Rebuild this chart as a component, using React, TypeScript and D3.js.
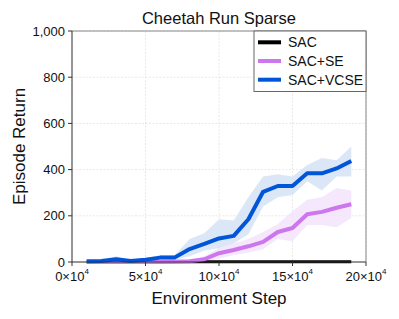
import React from "react";
import * as d3 from "d3";

const steps = [1, 2, 3, 4, 5, 6, 7, 8, 9, 10, 11, 12, 13, 14, 15, 16, 17, 18, 19].map((d) => d * 1e4);
const sacMean = [1, 1, 1, 1, 1, 1, 1, 1, 1, 1, 1, 1, 1, 1, 1, 1, 1, 1, 1];
const seMean = [0, 0, 0, 0, 0, 0, 1, 3, 12, 38, 52, 68, 87, 130, 147, 207, 217, 235, 250];
const seLow = [0, 0, 0, 0, 0, 0, 0, 0, 0, 15, 30, 40, 55, 100, 90, 160, 160, 150, 190];
const seHigh = [0, 0, 0, 0, 0, 1, 2, 8, 25, 60, 80, 100, 130, 165, 220, 270, 280, 320, 310];
const vcseMean = [3, 4, 12, 4, 10, 19, 20, 56, 78, 102, 113, 185, 304, 329, 329, 384, 384, 405, 437];
const vcseLow = [0, 2, 5, 2, 5, 10, 10, 25, 50, 60, 80, 120, 240, 280, 290, 350, 310, 370, 370];
const vcseHigh = [5, 6, 25, 6, 15, 30, 30, 100, 125, 185, 180, 280, 370, 380, 370, 420, 450, 440, 500];
const xTicks = [0, 5, 10, 15, 20];
const yTicks = [0, 200, 400, 600, 800, 1000];
const seriesNames = ["SAC", "SAC+SE", "SAC+VCSE"];
const seriesColors = ["#000000", "#cc77ee", "#0055d8"];
const bandColors = ["#cccccc", "#f3e1fb", "#d5e2f6"];

export default function App() {
  const W = 399, H = 319;
  const L = 72, R = 366, T = 31, B = 262;
  const x = d3.scaleLinear().domain([0, 20e4]).range([L, R]);
  const y = d3.scaleLinear().domain([0, 1000]).range([B, T]);
  const line = (vals: number[]) =>
    d3.line<number>().x((_, i) => x(steps[i])).y((v) => y(v))(vals) as string;
  const area = (lo: number[], hi: number[]) =>
    d3.area<number>().x((_, i) => x(steps[i])).y0((_, i) => y(lo[i])).y1((_, i) => y(hi[i]))(lo) as string;
  const font = "'Liberation Sans', Arial, sans-serif";
  const legX = 254, legY = 31;
  return (
    <svg width={W} height={H} style={{ position: "absolute", left: 0, top: 0, background: "#fff" }} fontFamily={font}>
      {xTicks.map((t) => (
        <line key={"gx" + t} x1={x(t * 1e4)} x2={x(t * 1e4)} y1={T} y2={B} stroke="#e2e2e2" strokeWidth={0.8} strokeDasharray="2,1.5" />
      ))}
      {yTicks.map((t) => (
        <line key={"gy" + t} x1={L} x2={R} y1={y(t)} y2={y(t)} stroke="#e2e2e2" strokeWidth={0.8} strokeDasharray="2,1.5" />
      ))}
      <path d={area(seLow, seHigh)} fill={bandColors[1]} opacity={0.8} />
      <path d={area(vcseLow, vcseHigh)} fill={bandColors[2]} opacity={0.85} />
      <path d={line(sacMean)} fill="none" stroke={seriesColors[0]} strokeWidth={3} />
      <path d={line(seMean)} fill="none" stroke={seriesColors[1]} strokeWidth={4} strokeLinejoin="round" />
      <path d={line(vcseMean)} fill="none" stroke={seriesColors[2]} strokeWidth={4} strokeLinejoin="round" />
      <line x1={L} x2={R} y1={T} y2={T} stroke="#888" strokeWidth={1} />
      <line x1={R} x2={R} y1={T} y2={B} stroke="#888" strokeWidth={1} />
      <line x1={L} x2={L} y1={T} y2={B} stroke="#333" strokeWidth={1} />
      <line x1={L} x2={R} y1={B} y2={B} stroke="#333" strokeWidth={1} />
      {yTicks.map((t) => (
        <g key={"yt" + t}>
          <line x1={L - 4} x2={L} y1={y(t)} y2={y(t)} stroke="#333" />
          <text x={L - 7} y={y(t)} dy="0.35em" textAnchor="end" fontSize={13} fill="#111">
            {d3.format(",")(t)}
          </text>
        </g>
      ))}
      {xTicks.map((t) => (
        <g key={"xt" + t}>
          <line x1={x(t * 1e4)} x2={x(t * 1e4)} y1={B} y2={B + 4} stroke="#333" />
          <text x={x(t * 1e4)} y={B + 19} textAnchor="middle" fontSize={13} fill="#111">
            {t + "×10"}
            <tspan dy={-7} fontSize={8}>4</tspan>
          </text>
        </g>
      ))}
      <text x={(L + R) / 2} y={23.5} textAnchor="middle" fontSize={16.5} fill="#111">Cheetah Run Sparse</text>
      <text x={(L + R) / 2} y={304} textAnchor="middle" fontSize={17} fill="#111">Environment Step</text>
      <text transform={`translate(25,${(T + B) / 2}) rotate(-90)`} textAnchor="middle" fontSize={17} fill="#111">Episode Return</text>
      <rect x={legX} y={legY} width={R - legX} height={60.5} fill="#fff" stroke="#666" strokeWidth={1} />
      {seriesNames.map((n, i) => (
        <g key={n}>
          <line x1={legX + 4} x2={legX + 27} y1={legY + 11.3 + i * 18.7} y2={legY + 11.3 + i * 18.7} stroke={seriesColors[i]} strokeWidth={4} />
          <text x={legX + 34} y={legY + 11.3 + i * 18.7} dy="0.35em" fontSize={14} fill="#111">{n}</text>
        </g>
      ))}
    </svg>
  );
}
